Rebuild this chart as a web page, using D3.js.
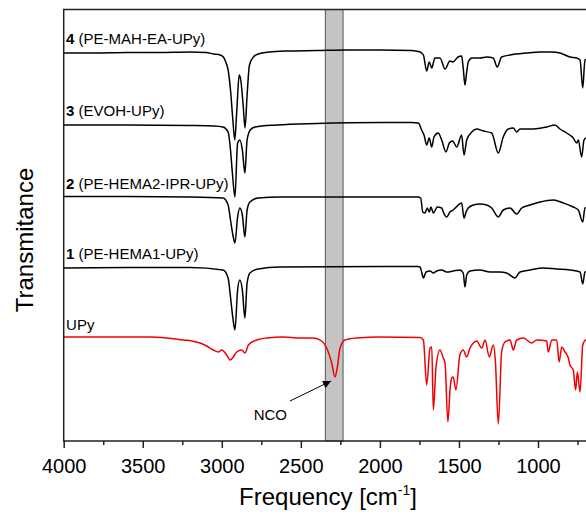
<!DOCTYPE html>
<html lang="en">
<head>
<meta charset="UTF-8">
<title>FTIR spectra</title>
<script src="https://cdn.jsdelivr.net/npm/d3@7/dist/d3.min.js"></script>
<style>
    body { margin: 0; background: #ffffff; }
    text { font-family: "Liberation Sans", Arial, sans-serif; fill: #000; }
</style>
</head>
<body>
<div id="container"></div>
<script>

    // wavenumber [cm-1], transmittance (offset, a.u.)
    const pe_mah_ea = [
        [4000,388],[3800,388],[3600,388.5],[3400,388.5],[3200,389],[3100,388.5],[3050,387],[3010,386],
        [2990,384],[2975,379],[2960,371],[2945,351],[2930,321],[2918,301],[2905,331],[2890,366],
        [2880,361],[2865,336],[2853,313],[2840,346],[2825,376],[2800,384],[2770,387],[2700,389],
        [2600,390],[2400,390.5],[2200,391],[2000,391],[1800,390.5],[1760,389.5],[1746,389],[1725,386],
        [1704,370],[1688,379],[1672,373],[1652,383],[1620,383],[1588,372],[1557,380],[1538,379],
        [1506,384],[1483,385],[1473,373],[1462,356],[1451,369],[1441,379],[1419,383],[1388,383],
        [1367,383],[1324,384],[1283,383],[1258,374],[1230,384],[1177,386],[1072,388],[987,389],
        [913,389],[861,388],[798,384],[755,383],[734,381],[717,353],[703,381],[650,383]
    ];
    const evoh = [
        [4000,316],[3600,316],[3200,315.5],[3050,315],[2992,314],[2960,309],[2945,291],[2932,266],
        [2917,244],[2900,298],[2886,301],[2870,291],[2854,268],[2840,301],[2820,311],[2790,314],
        [2650,316],[2400,317.5],[2000,318.5],[1800,318.5],[1757,318],[1736,311],[1721,306],[1704,296],
        [1688,303],[1672,294],[1658,304],[1631,308],[1609,301],[1582,289],[1561,298],[1540,300],
        [1514,294],[1483,306],[1468,286],[1451,301],[1419,309],[1388,312],[1346,310],[1293,308],
        [1251,288],[1220,304],[1188,312],[1156,313],[1135,309],[1114,312],[1030,312],[945,314],
        [893,316],[861,312],[819,308],[777,303],[755,298],[745,301],[724,284],[709,301],[696,303],[650,304]
    ];
    const pe_hema2 = [
        [4000,244.5],[3600,244.5],[3200,244],[2992,243],[2960,236],[2945,221],[2930,206],[2917,198],
        [2900,224],[2886,233],[2870,226],[2854,204],[2840,231],[2822,239],[2770,243],[2632,244],
        [2000,244],[1760,244],[1742,243],[1729,229],[1715,228],[1700,233],[1688,229],[1677,234],
        [1662,228],[1637,234],[1609,233],[1599,229],[1578,224],[1557,229],[1536,231],[1504,236],
        [1483,238],[1468,223],[1455,229],[1441,233],[1409,236],[1367,237],[1325,236],[1293,233],
        [1251,224],[1220,231],[1177,233],[1135,227],[1103,233],[1051,236],[987,239],[903,241],
        [840,238],[777,234],[745,231],[717,219],[703,233],[650,234]
    ];
    const pe_hema1 = [
        [4000,173],[3600,173.5],[3200,173.5],[2992,171],[2960,163],[2945,144],[2930,123],[2917,111],
        [2900,151],[2886,161],[2870,151],[2854,123],[2840,158],[2822,168],[2770,172],[2632,174],
        [2000,174.5],[1760,174.5],[1746,174],[1736,169],[1725,163],[1708,169],[1683,170],[1662,168],
        [1641,170],[1609,171],[1578,169],[1536,170],[1494,171],[1473,168],[1462,154],[1451,166],
        [1430,170],[1367,171],[1304,169],[1241,169],[1198,168],[1146,163],[1114,169],[1051,171],
        [967,173],[882,172],[798,171],[734,169],[717,157],[703,169],[650,170]
    ];
    const upy = [
        [4000,104],[3700,104],[3453,104],[3349,103],[3244,101],[3190,100],[3138,98],[3096,95],
        [3054,91],[3022,89],[3001,91],[2969,86],[2948,81],[2927,84],[2906,89],[2874,91],[2853,88],
        [2832,96],[2779,101],[2716,103],[2611,104],[2505,103],[2421,103],[2368,100],[2337,93],
        [2305,78],[2284,64],[2269,74],[2252,93],[2221,101],[2147,103],[2000,104],[1746,103.5],
        [1725,101],[1704,56],[1683,93],[1672,94],[1662,31],[1645,74],[1620,91],[1599,83],[1588,78],
        [1570,19],[1555,54],[1546,63],[1536,64],[1519,51],[1494,86],[1473,91],[1451,84],[1430,93],
        [1409,98],[1388,100],[1356,93],[1335,101],[1308,84],[1283,96],[1270,81],[1251,17],[1230,89],
        [1209,99],[1177,101],[1156,91],[1135,101],[1093,103],[1040,98],[1008,101],[945,100],[935,89],
        [913,101],[882,101],[866,79],[850,94],[829,89],[808,83],[798,76],[777,71],[762,51],[751,69],
        [734,49],[717,96],[698,101],[650,102]
    ];

    const labels = [
        {num: "4", name: " (PE-MAH-EA-UPy)", v: 397},
        {num: "3", name: " (EVOH-UPy)", v: 325},
        {num: "2", name: " (PE-HEMA2-IPR-UPy)", v: 252},
        {num: "1", name: " (PE-HEMA1-UPy)", v: 182},
        {num: "", name: "UPy", v: 111}
    ];
    const xMajor = [4000, 3500, 3000, 2500, 2000, 1500, 1000];
    const xMinor = [3750, 3250, 2750, 2250, 1750, 1250, 750];
    const ncoBand = [2345, 2233];
    const ncoArrow = {from: [2569, 40], to: [2309, 60], text: [2693, 21]};

    const W = 586, H = 523;
    const mLeft = 63.7, mTop = 9.5, mBottom = 441;

    const svg = d3.select("#container")
        .append("svg")
        .attr("width", W)
        .attr("height", H)
        .style("background-color", "#ffffff");

    const x = d3.scaleLinear()
        .domain([4000, 600])
        .range([mLeft, mLeft + 3400 * 0.1581]);
    const y = d3.scaleLinear()
        .domain([0, 431.5])
        .range([mBottom, mTop]);

    const defs = svg.append("defs");
    defs.append("clipPath").attr("id", "plot")
        .append("rect")
        .attr("x", mLeft).attr("y", mTop)
        .attr("width", W - mLeft).attr("height", mBottom - mTop);

    // grey NCO band
    svg.append("rect")
        .attr("x", x(ncoBand[0]))
        .attr("y", mTop)
        .attr("width", x(ncoBand[1]) - x(ncoBand[0]))
        .attr("height", mBottom - mTop)
        .attr("fill", "#c4c4c4")
        .attr("stroke", "#555")
        .attr("stroke-width", 1);

    const line = d3.line()
        .x(d => x(d[0]))
        .y(d => y(d[1]))
        .curve(d3.curveMonotoneX);

    const series = [
        {data: pe_mah_ea, color: "#000"},
        {data: evoh, color: "#000"},
        {data: pe_hema2, color: "#000"},
        {data: pe_hema1, color: "#000"},
        {data: upy, color: "#f00000"}
    ];

    svg.append("g")
        .attr("clip-path", "url(#plot)")
        .selectAll("path")
        .data(series)
        .join("path")
        .attr("d", d => line(d.data))
        .attr("fill", "none")
        .attr("stroke", d => d.color)
        .attr("stroke-width", 1.5)
        .attr("stroke-linejoin", "round");

    // frame
    svg.append("path")
        .attr("d", `M${W},${mTop}H${mLeft}V${mBottom}H${W}`)
        .attr("fill", "none")
        .attr("stroke", "#222")
        .attr("stroke-width", 1.5);

    // bottom axis
    const ax = svg.append("g")
        .attr("transform", `translate(0,${mBottom})`)
        .call(d3.axisBottom(x).tickValues(xMajor).tickFormat(d3.format("d"))
            .tickSize(7).tickSizeOuter(0).tickPadding(11));
    ax.select(".domain").remove();
    ax.selectAll("line").attr("stroke", "#222").attr("stroke-width", 1.5);
    ax.selectAll("text")
        .style("font-family", '"Liberation Sans", Arial, sans-serif')
        .style("font-size", "20px")
        .attr("fill", "#000");

    const axm = svg.append("g")
        .attr("transform", `translate(0,${mBottom})`)
        .call(d3.axisBottom(x).tickValues(xMinor).tickSize(4).tickSizeOuter(0).tickFormat(""));
    axm.select(".domain").remove();
    axm.selectAll("line").attr("stroke", "#222").attr("stroke-width", 1.5);

    // axis titles
    const xt = svg.append("text")
        .attr("x", 328)
        .attr("y", 505)
        .attr("text-anchor", "middle")
        .style("font-size", "24px");
    xt.append("tspan").text("Frequency [cm");
    xt.append("tspan").text("-1").style("font-size", "14px").attr("dy", -10);
    xt.append("tspan").text("]").attr("dy", 10);

    svg.append("text")
        .attr("transform", "translate(33,240) rotate(-90)")
        .attr("text-anchor", "middle")
        .style("font-size", "24px")
        .text("Transmitance");

    // spectrum labels
    const lab = svg.selectAll(".lab")
        .data(labels)
        .join("text")
        .attr("class", "lab")
        .attr("x", x(3985))
        .attr("y", d => y(d.v))
        .style("font-size", "15px");
    lab.append("tspan").style("font-weight", "bold").text(d => d.num);
    lab.append("tspan").text(d => d.name);

    // NCO annotation
    defs.append("marker")
        .attr("id", "arrow")
        .attr("viewBox", "0 0 10 10")
        .attr("refX", 10).attr("refY", 5)
        .attr("markerWidth", 10).attr("markerHeight", 8)
        .attr("markerUnits", "userSpaceOnUse")
        .attr("orient", "auto")
        .append("path")
        .attr("d", "M0,0L10,5L0,10Z")
        .attr("fill", "#000");

    svg.append("line")
        .attr("x1", x(ncoArrow.from[0])).attr("y1", y(ncoArrow.from[1]))
        .attr("x2", x(ncoArrow.to[0])).attr("y2", y(ncoArrow.to[1]))
        .attr("stroke", "#000")
        .attr("stroke-width", 1)
        .attr("marker-end", "url(#arrow)");

    svg.append("text")
        .attr("x", x(ncoArrow.text[0]))
        .attr("y", y(ncoArrow.text[1]))
        .attr("text-anchor", "middle")
        .style("font-size", "15px")
        .text("NCO");

</script>
</body>
</html>
